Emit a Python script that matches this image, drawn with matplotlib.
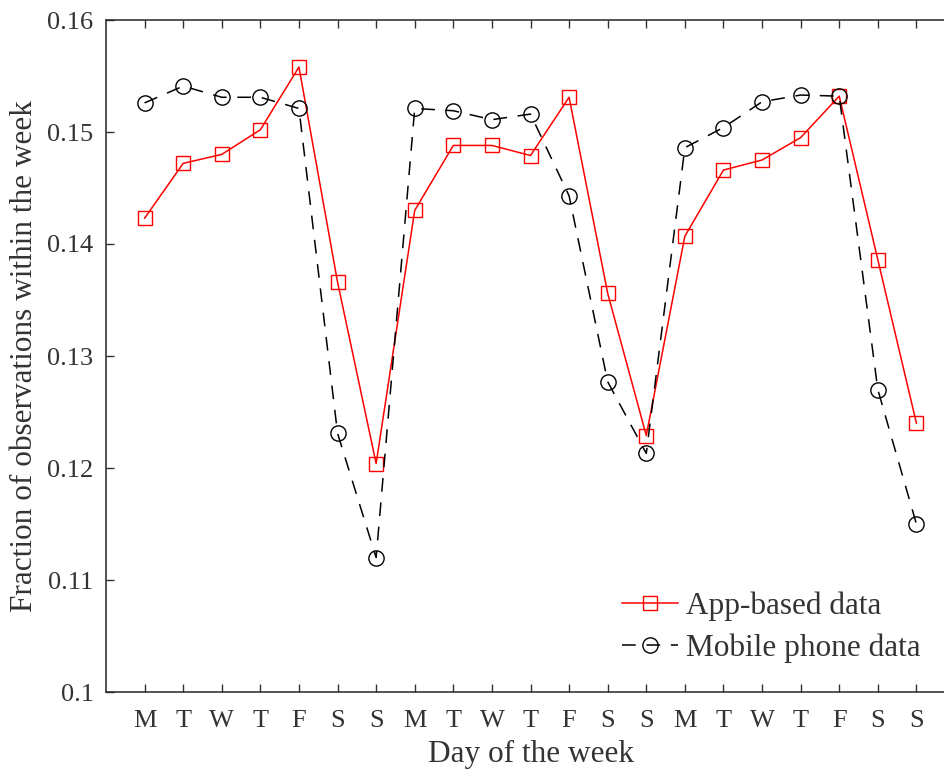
import matplotlib.pyplot as plt
import numpy as np

# datos
days = ['M', 'T', 'W', 'T', 'F', 'S', 'S'] * 3
app = [0.1423, 0.1472, 0.1480, 0.1502, 0.1558, 0.1366, 0.1204,
       0.1430, 0.1488, 0.1488, 0.1479, 0.1531, 0.1356, 0.1229,
       0.1407, 0.1466, 0.1475, 0.1495, 0.1532, 0.1386, 0.1240]
mobile = [0.1526, 0.1541, 0.1531, 0.1531, 0.1521, 0.1231, 0.1120,
          0.1521, 0.1519, 0.1511, 0.1516, 0.1443, 0.1277, 0.1213,
          0.1486, 0.1504, 0.1527, 0.1533, 0.1532, 0.1270, 0.1150]

plt.rcParams['font.family'] = ['Liberation Serif', 'DejaVu Serif']

fig = plt.figure(figsize=(9.44, 7.69), dpi=100)
# el eje derecho queda fuera de la imagen, como en la original
ax = fig.add_axes([106 / 944, 1 - 692 / 769, (955 - 106) / 944, (692 - 20) / 769])

x = np.arange(1, len(days) + 1)
ax.plot(x, app, color='red', marker='s', markersize=9.5, markerfacecolor='none',
        linewidth=1.1, label='App-based data')
ax.plot(x, mobile, color='black', marker='o', markersize=11, markerfacecolor='none',
        linewidth=1.1, linestyle=(0, (9, 7)), label='Mobile phone data')

ax.set_xlim(0, 22)
ax.set_ylim(0.1, 0.16)
ax.set_xticks(x)
ax.set_xticklabels(days)
ax.set_yticks([0.1, 0.11, 0.12, 0.13, 0.14, 0.15, 0.16])
ax.set_yticklabels(['0.1', '0.11', '0.12', '0.13', '0.14', '0.15', '0.16'])
ax.tick_params(direction='in', length=6, width=1, labelsize=19, top=True, right=True,
               colors='#333333', pad=9)
ax.tick_params(axis='x', pad=13)
for s in ax.spines.values():
    s.set_color('#262626')
    s.set_linewidth(1.1)

ax.set_xlabel('Day of the week', fontsize=22.5, color='#333333', labelpad=6)
ax.set_ylabel('Fraction of observations within the week', fontsize=22.5, color='#333333',
              labelpad=6)

leg = ax.legend(loc='lower right', bbox_to_anchor=(0.985, 0.01), frameon=False,
                fontsize=22.5, handlelength=1.8, handletextpad=0.25, labelspacing=0.4,
                borderpad=0.2)
for t in leg.get_texts():
    t.set_color('#333333')

fig.savefig('out.png', dpi=100)
